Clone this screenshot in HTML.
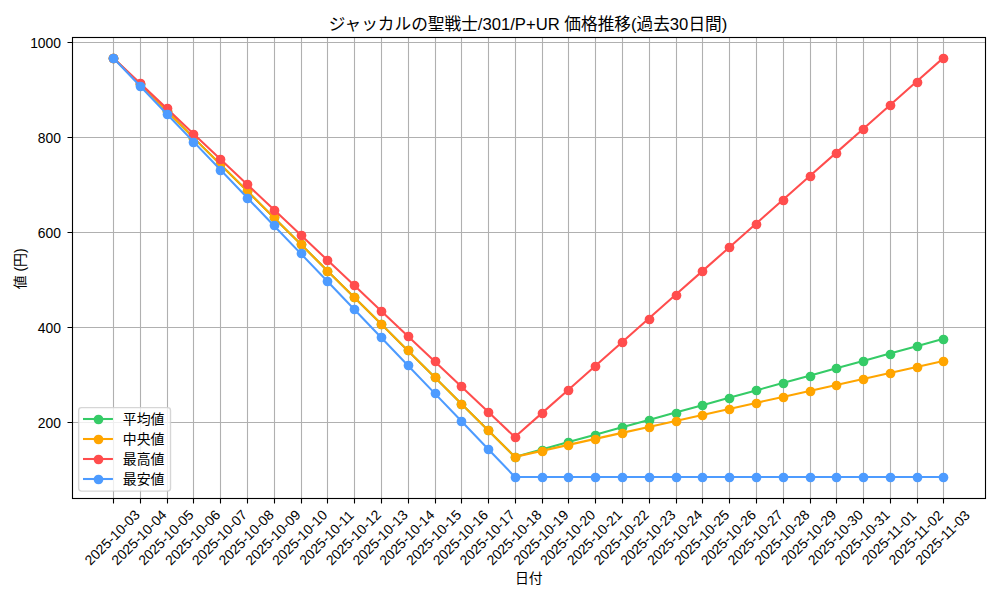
<!DOCTYPE html>
<html lang="ja">
<head>
<meta charset="utf-8">
<title>ジャッカルの聖戦士/301/P+UR 価格推移(過去30日間)</title>
<style>
html,body{margin:0;padding:0;background:#fff;font-family:"Liberation Sans",sans-serif}
body{position:relative;width:1000px;height:600px;overflow:hidden}
svg{display:block;position:absolute;left:0;top:0;width:1000px;height:600px}
svg text{font-family:"Liberation Sans","Noto Sans CJK JP",sans-serif}
.sr{position:absolute;left:0;top:0;width:1px;height:1px;margin:-1px;padding:0;overflow:hidden;clip:rect(0 0 0 0);clip-path:inset(50%);white-space:nowrap;border:0}
</style>
</head>
<body>
<div class="sr">
<h1>ジャッカルの聖戦士/301/P+UR 価格推移(過去30日間)</h1>
<p>横軸: 日付 (2025-10-03 〜 2025-11-03) / 縦軸: 値 (円)</p>
<ul><li>平均値</li><li>中央値</li><li>最高値</li><li>最安値</li></ul>
</div>
<svg width="1000" height="600" viewBox="0 0 1000 600" role="img" aria-label="Line chart: ジャッカルの聖戦士/301/P+UR 価格推移(過去30日間). X axis 日付 (2025-10-03 to 2025-11-03), Y axis 値 (円). Series: 平均値, 中央値, 最高値, 最安値.">
<rect width="1000" height="600" fill="#fff"/>
<path d="M113.5 37.5V498.5M140.5 37.5V498.5M167.5 37.5V498.5M193.5 37.5V498.5M220.5 37.5V498.5M247.5 37.5V498.5M274.5 37.5V498.5M301.5 37.5V498.5M327.5 37.5V498.5M354.5 37.5V498.5M381.5 37.5V498.5M408.5 37.5V498.5M435.5 37.5V498.5M461.5 37.5V498.5M488.5 37.5V498.5M515.5 37.5V498.5M542.5 37.5V498.5M568.5 37.5V498.5M595.5 37.5V498.5M622.5 37.5V498.5M649.5 37.5V498.5M676.5 37.5V498.5M702.5 37.5V498.5M729.5 37.5V498.5M756.5 37.5V498.5M783.5 37.5V498.5M810.5 37.5V498.5M836.5 37.5V498.5M863.5 37.5V498.5M890.5 37.5V498.5M917.5 37.5V498.5M943.5 37.5V498.5M72.5 422.5H985.5M72.5 327.5H985.5M72.5 232.5H985.5M72.5 137.5H985.5M72.5 42.5H985.5" fill="none" stroke="#b0b0b0" stroke-width="1.11"/>
<path d="M113.5 498.5V503.5M140.5 498.5V503.5M167.5 498.5V503.5M193.5 498.5V503.5M220.5 498.5V503.5M247.5 498.5V503.5M274.5 498.5V503.5M301.5 498.5V503.5M327.5 498.5V503.5M354.5 498.5V503.5M381.5 498.5V503.5M408.5 498.5V503.5M435.5 498.5V503.5M461.5 498.5V503.5M488.5 498.5V503.5M515.5 498.5V503.5M542.5 498.5V503.5M568.5 498.5V503.5M595.5 498.5V503.5M622.5 498.5V503.5M649.5 498.5V503.5M676.5 498.5V503.5M702.5 498.5V503.5M729.5 498.5V503.5M756.5 498.5V503.5M783.5 498.5V503.5M810.5 498.5V503.5M836.5 498.5V503.5M863.5 498.5V503.5M890.5 498.5V503.5M917.5 498.5V503.5M943.5 498.5V503.5M72.5 422.5H67.5M72.5 327.5H67.5M72.5 232.5H67.5M72.5 137.5H67.5M72.5 42.5H67.5" fill="none" stroke="#000" stroke-width="1.11"/>
<clipPath id="ax"><rect x="71.54" y="36.95" width="913.44" height="461"/></clipPath>
<g clip-path="url(#ax)">
<g fill="#35cb67" stroke="#35cb67">
<polyline points="113.06,57.81 139.85,84.41 166.64,111.02 193.42,137.62 220.21,164.23 247,190.83 273.79,217.44 300.57,244.04 327.36,270.65 354.15,297.25 380.93,323.86 407.72,350.46 434.51,377.07 461.29,403.67 488.08,430.28 514.87,456.88 541.66,449.5 568.44,442.12 595.23,434.74 622.02,427.36 648.8,419.98 675.59,412.6 702.38,405.22 729.16,397.84 755.95,390.46 782.74,383.08 809.53,375.7 836.31,368.32 863.1,360.94 889.89,353.56 916.67,346.18 943.46,338.79" fill="none" stroke-width="2.08" stroke-linejoin="round" stroke-linecap="square"/>
<circle cx="113.5" cy="58.5" r="4.86" stroke="none"/><circle cx="140.5" cy="84.5" r="4.86" stroke="none"/><circle cx="167.5" cy="111.5" r="4.86" stroke="none"/><circle cx="193.5" cy="138.5" r="4.86" stroke="none"/><circle cx="220.5" cy="164.5" r="4.86" stroke="none"/><circle cx="247.5" cy="191.5" r="4.86" stroke="none"/><circle cx="274.5" cy="217.5" r="4.86" stroke="none"/><circle cx="301.5" cy="244.5" r="4.86" stroke="none"/><circle cx="327.5" cy="271.5" r="4.86" stroke="none"/><circle cx="354.5" cy="297.5" r="4.86" stroke="none"/><circle cx="381.5" cy="324.5" r="4.86" stroke="none"/><circle cx="408.5" cy="350.5" r="4.86" stroke="none"/><circle cx="435.5" cy="377.5" r="4.86" stroke="none"/><circle cx="461.5" cy="404.5" r="4.86" stroke="none"/><circle cx="488.5" cy="430.5" r="4.86" stroke="none"/><circle cx="515.5" cy="457.5" r="4.86" stroke="none"/><circle cx="542.5" cy="450.5" r="4.86" stroke="none"/><circle cx="568.5" cy="442.5" r="4.86" stroke="none"/><circle cx="595.5" cy="435.5" r="4.86" stroke="none"/><circle cx="622.5" cy="427.5" r="4.86" stroke="none"/><circle cx="649.5" cy="420.5" r="4.86" stroke="none"/><circle cx="676.5" cy="413.5" r="4.86" stroke="none"/><circle cx="702.5" cy="405.5" r="4.86" stroke="none"/><circle cx="729.5" cy="398.5" r="4.86" stroke="none"/><circle cx="756.5" cy="390.5" r="4.86" stroke="none"/><circle cx="783.5" cy="383.5" r="4.86" stroke="none"/><circle cx="810.5" cy="376.5" r="4.86" stroke="none"/><circle cx="836.5" cy="368.5" r="4.86" stroke="none"/><circle cx="863.5" cy="361.5" r="4.86" stroke="none"/><circle cx="890.5" cy="354.5" r="4.86" stroke="none"/><circle cx="917.5" cy="346.5" r="4.86" stroke="none"/><circle cx="943.5" cy="339.5" r="4.86" stroke="none"/>
</g>
<g fill="#ffa500" stroke="#ffa500">
<polyline points="113.06,57.81 139.85,84.41 166.64,111.02 193.42,137.62 220.21,164.23 247,190.83 273.79,217.44 300.57,244.04 327.36,270.65 354.15,297.25 380.93,323.86 407.72,350.46 434.51,377.07 461.29,403.67 488.08,430.28 514.87,456.88 541.66,450.88 568.44,444.88 595.23,438.88 622.02,432.88 648.8,426.89 675.59,420.89 702.38,414.89 729.16,408.89 755.95,402.89 782.74,396.89 809.53,390.89 836.31,384.89 863.1,378.89 889.89,372.89 916.67,366.89 943.46,360.89" fill="none" stroke-width="2.08" stroke-linejoin="round" stroke-linecap="square"/>
<circle cx="113.5" cy="58.5" r="4.86" stroke="none"/><circle cx="140.5" cy="84.5" r="4.86" stroke="none"/><circle cx="167.5" cy="111.5" r="4.86" stroke="none"/><circle cx="193.5" cy="138.5" r="4.86" stroke="none"/><circle cx="220.5" cy="164.5" r="4.86" stroke="none"/><circle cx="247.5" cy="191.5" r="4.86" stroke="none"/><circle cx="274.5" cy="217.5" r="4.86" stroke="none"/><circle cx="301.5" cy="244.5" r="4.86" stroke="none"/><circle cx="327.5" cy="271.5" r="4.86" stroke="none"/><circle cx="354.5" cy="297.5" r="4.86" stroke="none"/><circle cx="381.5" cy="324.5" r="4.86" stroke="none"/><circle cx="408.5" cy="350.5" r="4.86" stroke="none"/><circle cx="435.5" cy="377.5" r="4.86" stroke="none"/><circle cx="461.5" cy="404.5" r="4.86" stroke="none"/><circle cx="488.5" cy="430.5" r="4.86" stroke="none"/><circle cx="515.5" cy="457.5" r="4.86" stroke="none"/><circle cx="542.5" cy="451.5" r="4.86" stroke="none"/><circle cx="568.5" cy="445.5" r="4.86" stroke="none"/><circle cx="595.5" cy="439.5" r="4.86" stroke="none"/><circle cx="622.5" cy="433.5" r="4.86" stroke="none"/><circle cx="649.5" cy="427.5" r="4.86" stroke="none"/><circle cx="676.5" cy="421.5" r="4.86" stroke="none"/><circle cx="702.5" cy="415.5" r="4.86" stroke="none"/><circle cx="729.5" cy="409.5" r="4.86" stroke="none"/><circle cx="756.5" cy="403.5" r="4.86" stroke="none"/><circle cx="783.5" cy="397.5" r="4.86" stroke="none"/><circle cx="810.5" cy="391.5" r="4.86" stroke="none"/><circle cx="836.5" cy="385.5" r="4.86" stroke="none"/><circle cx="863.5" cy="379.5" r="4.86" stroke="none"/><circle cx="890.5" cy="373.5" r="4.86" stroke="none"/><circle cx="917.5" cy="367.5" r="4.86" stroke="none"/><circle cx="943.5" cy="361.5" r="4.86" stroke="none"/>
</g>
<g fill="#ff4d4d" stroke="#ff4d4d">
<polyline points="113.06,57.81 139.85,83.09 166.64,108.38 193.42,133.66 220.21,158.94 247,184.23 273.79,209.51 300.57,234.8 327.36,260.08 354.15,285.36 380.93,310.65 407.72,335.93 434.51,361.21 461.29,386.5 488.08,411.78 514.87,437.07 541.66,413.36 568.44,389.66 595.23,365.96 622.02,342.25 648.8,318.55 675.59,294.84 702.38,271.14 729.16,247.44 755.95,223.73 782.74,200.03 809.53,176.33 836.31,152.62 863.1,128.92 889.89,105.22 916.67,81.51 943.46,57.81" fill="none" stroke-width="2.08" stroke-linejoin="round" stroke-linecap="square"/>
<circle cx="113.5" cy="58.5" r="4.86" stroke="none"/><circle cx="140.5" cy="83.5" r="4.86" stroke="none"/><circle cx="167.5" cy="108.5" r="4.86" stroke="none"/><circle cx="193.5" cy="134.5" r="4.86" stroke="none"/><circle cx="220.5" cy="159.5" r="4.86" stroke="none"/><circle cx="247.5" cy="184.5" r="4.86" stroke="none"/><circle cx="274.5" cy="210.5" r="4.86" stroke="none"/><circle cx="301.5" cy="235.5" r="4.86" stroke="none"/><circle cx="327.5" cy="260.5" r="4.86" stroke="none"/><circle cx="354.5" cy="285.5" r="4.86" stroke="none"/><circle cx="381.5" cy="311.5" r="4.86" stroke="none"/><circle cx="408.5" cy="336.5" r="4.86" stroke="none"/><circle cx="435.5" cy="361.5" r="4.86" stroke="none"/><circle cx="461.5" cy="386.5" r="4.86" stroke="none"/><circle cx="488.5" cy="412.5" r="4.86" stroke="none"/><circle cx="515.5" cy="437.5" r="4.86" stroke="none"/><circle cx="542.5" cy="413.5" r="4.86" stroke="none"/><circle cx="568.5" cy="390.5" r="4.86" stroke="none"/><circle cx="595.5" cy="366.5" r="4.86" stroke="none"/><circle cx="622.5" cy="342.5" r="4.86" stroke="none"/><circle cx="649.5" cy="319.5" r="4.86" stroke="none"/><circle cx="676.5" cy="295.5" r="4.86" stroke="none"/><circle cx="702.5" cy="271.5" r="4.86" stroke="none"/><circle cx="729.5" cy="247.5" r="4.86" stroke="none"/><circle cx="756.5" cy="224.5" r="4.86" stroke="none"/><circle cx="783.5" cy="200.5" r="4.86" stroke="none"/><circle cx="810.5" cy="176.5" r="4.86" stroke="none"/><circle cx="836.5" cy="153.5" r="4.86" stroke="none"/><circle cx="863.5" cy="129.5" r="4.86" stroke="none"/><circle cx="890.5" cy="105.5" r="4.86" stroke="none"/><circle cx="917.5" cy="82.5" r="4.86" stroke="none"/><circle cx="943.5" cy="58.5" r="4.86" stroke="none"/>
</g>
<g fill="#4d9bff" stroke="#4d9bff">
<polyline points="113.06,57.81 139.85,85.75 166.64,113.69 193.42,141.63 220.21,169.58 247,197.52 273.79,225.46 300.57,253.4 327.36,281.34 354.15,309.29 380.93,337.23 407.72,365.17 434.51,393.11 461.29,421.05 488.08,448.99 514.87,476.94 541.66,476.94 568.44,476.94 595.23,476.94 622.02,476.94 648.8,476.94 675.59,476.94 702.38,476.94 729.16,476.94 755.95,476.94 782.74,476.94 809.53,476.94 836.31,476.94 863.1,476.94 889.89,476.94 916.67,476.94 943.46,476.94" fill="none" stroke-width="2.08" stroke-linejoin="round" stroke-linecap="square"/>
<circle cx="113.5" cy="58.5" r="4.86" stroke="none"/><circle cx="140.5" cy="86.5" r="4.86" stroke="none"/><circle cx="167.5" cy="114.5" r="4.86" stroke="none"/><circle cx="193.5" cy="142.5" r="4.86" stroke="none"/><circle cx="220.5" cy="170.5" r="4.86" stroke="none"/><circle cx="247.5" cy="198.5" r="4.86" stroke="none"/><circle cx="274.5" cy="225.5" r="4.86" stroke="none"/><circle cx="301.5" cy="253.5" r="4.86" stroke="none"/><circle cx="327.5" cy="281.5" r="4.86" stroke="none"/><circle cx="354.5" cy="309.5" r="4.86" stroke="none"/><circle cx="381.5" cy="337.5" r="4.86" stroke="none"/><circle cx="408.5" cy="365.5" r="4.86" stroke="none"/><circle cx="435.5" cy="393.5" r="4.86" stroke="none"/><circle cx="461.5" cy="421.5" r="4.86" stroke="none"/><circle cx="488.5" cy="449.5" r="4.86" stroke="none"/><circle cx="515.5" cy="477.5" r="4.86" stroke="none"/><circle cx="542.5" cy="477.5" r="4.86" stroke="none"/><circle cx="568.5" cy="477.5" r="4.86" stroke="none"/><circle cx="595.5" cy="477.5" r="4.86" stroke="none"/><circle cx="622.5" cy="477.5" r="4.86" stroke="none"/><circle cx="649.5" cy="477.5" r="4.86" stroke="none"/><circle cx="676.5" cy="477.5" r="4.86" stroke="none"/><circle cx="702.5" cy="477.5" r="4.86" stroke="none"/><circle cx="729.5" cy="477.5" r="4.86" stroke="none"/><circle cx="756.5" cy="477.5" r="4.86" stroke="none"/><circle cx="783.5" cy="477.5" r="4.86" stroke="none"/><circle cx="810.5" cy="477.5" r="4.86" stroke="none"/><circle cx="836.5" cy="477.5" r="4.86" stroke="none"/><circle cx="863.5" cy="477.5" r="4.86" stroke="none"/><circle cx="890.5" cy="477.5" r="4.86" stroke="none"/><circle cx="917.5" cy="477.5" r="4.86" stroke="none"/><circle cx="943.5" cy="477.5" r="4.86" stroke="none"/>
</g>
</g>
<rect x="72.5" y="37.5" width="913" height="461" fill="none" stroke="#000" stroke-width="1.11"/>
<g fill="#000">
<text x="528" y="30.1" font-size="16.67" text-anchor="middle">ジャッカルの聖戦士/301/P+UR 価格推移(過去30日間)</text>
<text x="528.85" y="583.25" font-size="13.89" text-anchor="middle">日付</text>
<text transform="translate(25 268.9) rotate(-90)" x="0" y="0" font-size="13.89" text-anchor="middle">値 (円)</text>
<text x="61" y="428" font-size="13.89" text-anchor="end">200</text>
<text x="61" y="332.96" font-size="13.89" text-anchor="end">400</text>
<text x="61" y="237.92" font-size="13.89" text-anchor="end">600</text>
<text x="61" y="142.88" font-size="13.89" text-anchor="end">800</text>
<text x="61" y="47.84" font-size="13.89" text-anchor="end">1000</text>
<g font-size="13.89" text-anchor="middle">
<text transform="translate(112.2 537.5) rotate(-45)" x="0" y="4.9">2025-10-03</text>
<text transform="translate(138.99 537.5) rotate(-45)" x="0" y="4.9">2025-10-04</text>
<text transform="translate(165.78 537.5) rotate(-45)" x="0" y="4.9">2025-10-05</text>
<text transform="translate(192.56 537.5) rotate(-45)" x="0" y="4.9">2025-10-06</text>
<text transform="translate(219.35 537.5) rotate(-45)" x="0" y="4.9">2025-10-07</text>
<text transform="translate(246.14 537.5) rotate(-45)" x="0" y="4.9">2025-10-08</text>
<text transform="translate(272.93 537.5) rotate(-45)" x="0" y="4.9">2025-10-09</text>
<text transform="translate(299.71 537.5) rotate(-45)" x="0" y="4.9">2025-10-10</text>
<text transform="translate(326.5 537.5) rotate(-45)" x="0" y="4.9">2025-10-11</text>
<text transform="translate(353.29 537.5) rotate(-45)" x="0" y="4.9">2025-10-12</text>
<text transform="translate(380.07 537.5) rotate(-45)" x="0" y="4.9">2025-10-13</text>
<text transform="translate(406.86 537.5) rotate(-45)" x="0" y="4.9">2025-10-14</text>
<text transform="translate(433.65 537.5) rotate(-45)" x="0" y="4.9">2025-10-15</text>
<text transform="translate(460.43 537.5) rotate(-45)" x="0" y="4.9">2025-10-16</text>
<text transform="translate(487.22 537.5) rotate(-45)" x="0" y="4.9">2025-10-17</text>
<text transform="translate(514.01 537.5) rotate(-45)" x="0" y="4.9">2025-10-18</text>
<text transform="translate(540.8 537.5) rotate(-45)" x="0" y="4.9">2025-10-19</text>
<text transform="translate(567.58 537.5) rotate(-45)" x="0" y="4.9">2025-10-20</text>
<text transform="translate(594.37 537.5) rotate(-45)" x="0" y="4.9">2025-10-21</text>
<text transform="translate(621.16 537.5) rotate(-45)" x="0" y="4.9">2025-10-22</text>
<text transform="translate(647.94 537.5) rotate(-45)" x="0" y="4.9">2025-10-23</text>
<text transform="translate(674.73 537.5) rotate(-45)" x="0" y="4.9">2025-10-24</text>
<text transform="translate(701.52 537.5) rotate(-45)" x="0" y="4.9">2025-10-25</text>
<text transform="translate(728.3 537.5) rotate(-45)" x="0" y="4.9">2025-10-26</text>
<text transform="translate(755.09 537.5) rotate(-45)" x="0" y="4.9">2025-10-27</text>
<text transform="translate(781.88 537.5) rotate(-45)" x="0" y="4.9">2025-10-28</text>
<text transform="translate(808.67 537.5) rotate(-45)" x="0" y="4.9">2025-10-29</text>
<text transform="translate(835.45 537.5) rotate(-45)" x="0" y="4.9">2025-10-30</text>
<text transform="translate(862.24 537.5) rotate(-45)" x="0" y="4.9">2025-10-31</text>
<text transform="translate(889.03 537.5) rotate(-45)" x="0" y="4.9">2025-11-01</text>
<text transform="translate(915.81 537.5) rotate(-45)" x="0" y="4.9">2025-11-02</text>
<text transform="translate(942.6 537.5) rotate(-45)" x="0" y="4.9">2025-11-03</text>
</g>
</g>
<rect x="78.65" y="407.6" width="91.85" height="83.5" rx="2.8" fill="#fff" fill-opacity="0.8" stroke="#ccc" stroke-opacity="0.8" stroke-width="1.389"/>
<path d="M84.04 419H111.9" stroke="#35cb67" stroke-width="2.08" stroke-linecap="square" fill="none"/>
<circle cx="98.5" cy="419.5" r="4.86" fill="#35cb67"/>
<path d="M84.04 439H111.9" stroke="#ffa500" stroke-width="2.08" stroke-linecap="square" fill="none"/>
<circle cx="98.5" cy="439.5" r="4.86" fill="#ffa500"/>
<path d="M84.04 459H111.9" stroke="#ff4d4d" stroke-width="2.08" stroke-linecap="square" fill="none"/>
<circle cx="98.5" cy="459.5" r="4.86" fill="#ff4d4d"/>
<path d="M84.04 479H111.9" stroke="#4d9bff" stroke-width="2.08" stroke-linecap="square" fill="none"/>
<circle cx="98.5" cy="479.5" r="4.86" fill="#4d9bff"/>
<g fill="#000" font-size="13.89">
<text x="122.85" y="424.25">平均値</text>
<text x="122.85" y="444.25">中央値</text>
<text x="122.85" y="464.25">最高値</text>
<text x="122.85" y="484.25">最安値</text>
</g>
</svg>
</body>
</html>
